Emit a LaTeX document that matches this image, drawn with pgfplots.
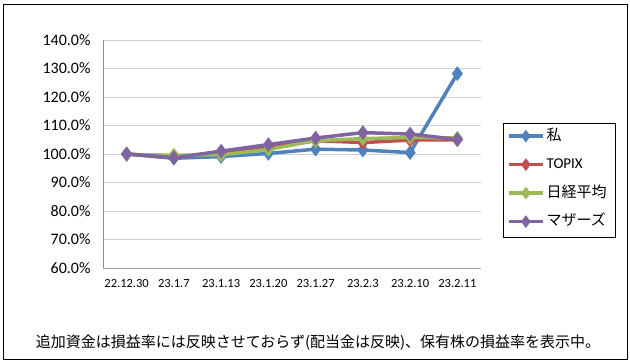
\documentclass[border=0pt]{standalone}
\usepackage{pgfplots}
\pgfplotsset{compat=1.18}
\usepackage{fontspec}
\setmainfont{Carlito}
\newfontfamily\jp{Noto Sans CJK JP}
\definecolor{cblue}{HTML}{4F81BD}
\definecolor{cred}{HTML}{C0504D}
\definecolor{cgreen}{HTML}{9BBB59}
\definecolor{cpurple}{HTML}{8064A2}
\begin{document}
\begin{tikzpicture}
\useasboundingbox (0,0) rectangle (630bp,361bp);
\draw[line width=1bp] (3bp,1.5bp) rectangle (627.5bp,356bp);
\draw[line width=0.8bp] (503bp,238bp) rectangle (615bp,124bp);
\begin{axis}[
  at={(103bp,93bp)}, anchor=south west,
  width=378bp, height=228bp, scale only axis,
  xmin=-0.5, xmax=7.5, ymin=60, ymax=140,
  xtick={0,...,7},
  xticklabels={22.12.30,23.1.7,23.1.13,23.1.20,23.1.27,23.2.3,23.2.10,23.2.11},
  ytick={60,70,...,140},
  yticklabel={\pgfmathprintnumber[fixed,fixed zerofill,precision=1]{\tick}\%},
  /pgf/number format/assume math mode=true,
  ymajorgrids, major grid style={draw=black!18, line width=0.8bp},
  major tick length=0pt,
  axis x line*=bottom, axis y line*=left,
  axis line style={draw=black!45, line width=0.8bp, -},
  x axis line style={draw=black!35},
  yticklabel style={font=\fontsize{16bp}{18bp}\selectfont, xshift=-9bp},
  xticklabel style={font=\fontsize{12.5bp}{14bp}\selectfont, yshift=-8bp},
  every axis plot/.append style={line width=3.5bp, mark=diamond*, mark size=4.5bp, mark options={solid}},
  legend style={at={(1.058,0.632)}, anchor=north west, draw=none, fill=none,
    inner xsep=4bp, inner ysep=3bp, row sep=10.5bp,
    nodes={inner sep=2bp, text height=11bp, text depth=3bp, font=\fontsize{15bp}{17bp}\selectfont}},
  legend cell align=left,
  legend image code/.code={\draw[mark repeat=2,mark phase=2,#1,mark size=3.5bp] plot coordinates {(0bp,0bp) (17bp,0bp) (34bp,0bp)};},
]
\addplot[color=cblue] coordinates {(0,100.0) (1,98.5) (2,99.1) (3,100.2) (4,101.7) (5,101.4) (6,100.5) (7,128.2)};
\addlegendentry{\jp 私}
\addplot[color=cred] coordinates {(0,100.0) (1,98.8) (2,100.5) (3,102.2) (4,104.7) (5,104.0) (6,104.9) (7,105.0)};
\addlegendentry{TOPIX}
\addplot[color=cgreen] coordinates {(0,99.8) (1,99.6) (2,99.7) (3,101.6) (4,104.7) (5,105.4) (6,105.8) (7,105.6)};
\addlegendentry{\jp 日経平均}
\addplot[color=cpurple] coordinates {(0,100.0) (1,98.7) (2,101.0) (3,103.3) (4,105.6) (5,107.5) (6,107.0) (7,105.1)};
\addlegendentry{\jp マザーズ}
\end{axis}
\node[font=\jp\fontsize{15bp}{17bp}\selectfont] at (318bp,18bp) {追加資金は損益率には反映させておらず(配当金は反映)、保有株の損益率を表示中。};
\end{tikzpicture}
\end{document}
